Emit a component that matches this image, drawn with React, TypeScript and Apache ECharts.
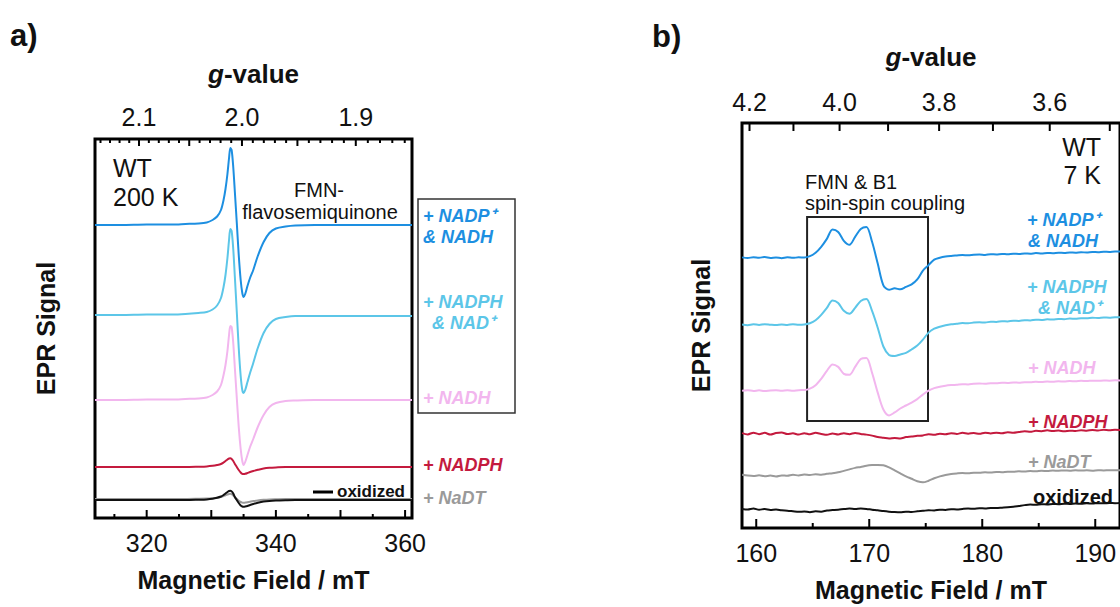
import React, { useEffect, useRef } from "react";
import * as echarts from "echarts";

// B (mT) = G_CONST / g  (X-band, ~9.37 GHz)
const G_CONST = 669.5;

const FONT = '"Liberation Sans", Arial, Helvetica, sans-serif';

const BLUE = "#1d8fe1";
const LIGHTBLUE = "#5cc6e8";
const PINK = "#f2b6ee";
const RED = "#c41a3e";
const GRAY = "#9a9a9a";
const BLACK = "#111111";

// ---------- Panel a (WT, 200 K) ----------
const aFieldRange = [312, 361.07];
const aFieldTicks = [315, 320, 325, 330, 335, 340, 345, 350, 355, 360];
const aFieldLabels = [320, 340, 360];
const aGTicks = [1.86, 1.87, 1.88, 1.89, 1.9, 1.91, 1.92, 1.93, 1.94, 1.95, 1.96, 1.97, 1.98, 1.99, 2.0,
  2.01, 2.02, 2.03, 2.04, 2.05, 2.06, 2.07, 2.08, 2.09, 2.1, 2.11, 2.12, 2.13, 2.14];
const aGLabels = [1.9, 2.0, 2.1];

const aField = [312, 316, 320, 324, 326, 328, 329.3, 330.2, 330.9, 331.5, 331.9, 332.2, 332.5, 332.75, 332.95,
  333.15, 333.4, 333.65, 333.95, 334.25, 334.55, 334.8, 335.0, 335.25, 335.6, 336.0, 336.5, 337.2, 338.1,
  339.0, 340.0, 341.5, 343, 346, 350, 355, 361.07];
const aBlue = [0, 0, 0.5, 0.5, 1, 1.5, 2.5, 5, 8.5, 15, 25, 36, 51, 67, 77, 75, 58, 33, 2, -30, -55, -68, -72,
  -69, -61, -53, -45, -31, -17, -8, -3.5, -1.5, -0.5, 0, 0, 0, 0];
const aLightBlue = [0, 0, 0.5, 0.5, 1, 2, 3, 5.5, 9.5, 17, 28, 40, 57, 75, 86, 84, 66, 38, 3, -33, -61, -75, -78,
  -75, -67, -58, -48, -33, -18, -9, -4, -2, -1, -1, -1, -1, -1];
const aPink = [0, 0, 0.5, 0.5, 1, 1.5, 2.5, 5, 8.5, 15, 25, 35, 49, 65, 74, 73, 57, 32, 2, -27, -49, -61, -65,
  -62, -55, -47, -39, -27, -15, -7, -3, -1, -0.5, 0, 0, 0, 0];
const aRed = [0, 0, 0, 0, 0, 0.3, 0.6, 1.2, 2, 3, 4.5, 6, 7.5, 8.5, 8.7, 8, 6, 3, 0, -3, -5.5, -6.8, -7, -6.8,
  -6, -5, -4, -2.8, -1.5, -0.8, -0.4, 0, 0, 0, 0, 0, 0];
const aGray = [0, 0, 0, 0, 0, 0.2, 0.4, 0.8, 1.3, 2, 3, 3.8, 4.5, 5, 5.2, 4.8, 3.6, 1.8, 0, -1.8, -3, -3.6,
  -3.8, -3.6, -3.2, -2.7, -2.1, -1.4, -0.8, -0.4, -0.2, 0, 0, 0, 0, 0, 0];
const aBlack = [0, 0, 0, 0, 0, 0.3, 0.6, 1.2, 2.2, 3.5, 5, 6.5, 8, 9, 9.3, 8.6, 6.5, 3, 0, -3, -5.5, -6.5,
  -6.8, -6.6, -6, -5, -4, -2.8, -1.6, -0.9, -0.5, -0.2, 0, 0, 0, 0, 0];
// vertical stacking offsets (arbitrary units)
const aOffsets = [293, 203, 118, 51, 19, 18];

// ---------- Panel b (WT, 7 K) ----------
const bFieldRange = [158.74, 192.19];
const bFieldTicks = [160, 165, 170, 175, 180, 185, 190];
const bFieldLabels = [160, 170, 180, 190];
const bGTicks = [3.5, 3.6, 3.7, 3.8, 3.9, 4.0, 4.1, 4.2];
const bGLabels = [3.6, 3.8, 4.0, 4.2];

const bField = [
  158.75, 159.25, 159.75, 160.25, 160.75, 161.25, 161.75, 162.25, 162.75, 163.25,
  163.75, 164.25, 164.75, 165.25, 165.75, 166.25, 166.75, 167.25, 167.75, 168.25,
  168.75, 169.25, 169.75, 170.25, 170.75, 171.25, 171.75, 172.25, 172.75, 173.25,
  173.75, 174.25, 174.75, 175.25, 175.75, 176.25, 176.75, 177.25, 177.75, 178.25,
  178.75, 179.25, 179.75, 180.25, 180.75, 181.25, 181.75, 182.25, 182.75, 183.25,
  183.75, 184.25, 184.75, 185.25, 185.75, 186.25, 186.75, 187.25, 187.75, 188.25,
  188.75, 189.25, 189.75, 190.25, 190.75, 191.25, 191.75, 192.25];
const bBlue = [
  0.3, -0.4, 0.5, 0, 0.6, -0.3, 0.2, -0.5, 0.4, -0.2,
  0.3, 0.2, 1.5, 5, 11, 19, 28.5, 26, 17, 13,
  21, 29, 31, 16, -6, -28, -32.5, -31, -32, -29.5,
  -27, -22, -13, -7.5, -2, 0, 1.2, 1.8, 2.2, 2.6,
  2.4, 3, 3.3, 2.8, 3.5, 3.2, 3.8, 3.4, 4, 3.7,
  4.3, 4, 4.6, 4.2, 4.8, 4.5, 5, 4.7, 5.3, 5,
  5.5, 5.2, 5.8, 5.5, 6, 5.8, 6.3, 6.1];
const bLightBlue = [
  0.3, -0.5, 0.4, -0.2, 0.5, 0, -0.4, 0.3, -0.2, 0.4,
  0, 0.3, 1.5, 4.5, 10, 17, 24.5, 22, 14, 11,
  17, 24, 26, 14, -3, -22, -30.5, -31.5, -30, -28.5,
  -25, -21, -15, -8, -4, -2, -0.5, 0.5, 1, 1.6,
  1.4, 2.2, 2.5, 2.2, 3, 2.8, 3.5, 3.3, 4, 3.8,
  4.5, 4.3, 5, 4.8, 5.4, 5.2, 5.8, 5.6, 6.2, 6,
  6.6, 6.4, 7, 6.8, 7.3, 7.1, 7.6, 7.4];
const bPink = [
  0, 0.4, -0.3, 0.3, -0.4, 0.2, 0.5, 0, 0.4, -0.2,
  0.5, 0.6, 2, 5.5, 12, 20, 26.5, 24, 17, 16,
  24, 32, 33, 18, -2, -19, -25, -22, -18, -15,
  -12, -8.5, -4, 0, 2.5, 4, 5, 5.6, 6, 6.5,
  6.3, 7, 7.2, 7, 7.6, 7.5, 8, 7.8, 8.3, 8.1,
  8.6, 8.4, 8.9, 8.7, 9.2, 9, 9.4, 9.3, 9.7, 9.5,
  9.9, 9.7, 10.1, 9.9, 10.3, 10.1, 10.4, 10.2];
const bRed = [
  0.5, -0.8, 1, -0.5, 0.8, -1, 0.6, 1.2, -0.4, 0.3,
  -1, 0.5, -0.6, 0.8, -0.3, -1.2, 0.2, -0.8, 0.4, -0.5,
  0.6, -0.3, -1, -2, -3.5, -4.2, -5, -4.3, -4.8, -3.5,
  -3, -2.2, -1.8, -0.6, -1.2, 0, -0.6, 0.4, -0.3, 0.8,
  0, 0.6, -0.2, 0.9, 0.2, 1, 0.4, 1.4, 0.8, 1.6,
  2.4, 1.8, 2.8, 2.5, 3.3, 2.7, 3.1, 2.4, 3, 2.6,
  3.5, 3, 3.7, 3.2, 3.9, 3.5, 4, 3.6];
const bGray = [
  0, -0.8, -1.2, -0.5, -1.5, -0.8, -1.6, -0.6, -1, 0,
  -0.6, 0.3, -0.2, 0.6, 0.2, 1, 1.6, 2.5, 4, 5.5,
  7, 8, 9.2, 9.8, 10, 9.6, 7.5, 4.5, 1.5, -1.5,
  -4, -6.5, -7.6, -6, -3.5, -1.6, -0.2, 0.8, 1.4, 1.8,
  1.5, 2.2, 2, 2.6, 2.3, 2.9, 2.7, 3.2, 3, 3.5,
  3.3, 3.8, 3.6, 4, 3.8, 4.3, 4.1, 4.4, 4.2, 4.6,
  4.3, 4.5, 4.2, 4.6, 4.4, 4.7, 4.5, 4.6];
const bBlack = [
  0, -0.6, 0.4, -0.8, -0.2, -1, -0.6, -1.4, -1.8, -2.4,
  -3, -2.6, -3.3, -2.5, -2.8, -1.6, -1.2, -0.8, -0.2, 0.3,
  -0.2, 0.4, 0, -0.8, -1.4, -2.2, -2.8, -3.2, -3.4, -2.8,
  -3.2, -2.4, -2, -1.4, -1.6, -0.8, -1, -0.3, -0.6, 0,
  0.4, 0.1, 0.7, 0.5, 1, 0.8, 1.2, 1.6, 2.2, 3,
  3.8, 4.4, 4.2, 4.8, 4.5, 5, 4.7, 5.2, 5, 5.4,
  5.2, 5.6, 5.4, 5.8, 5.6, 6, 5.8, 6];
const bOffsets = [273, 205.3, 138.7, 95.3, 53.7, 19.3];
// "FMN & B1 spin-spin coupling" frame: [fieldFrom, fieldTo, yFrom, yTo]
const bBox = [164.5, 175.2, 108, 314];

type Tick = { field: number; side: "top" | "bottom"; len: number; label?: string };

function buildTicks(fieldTicks: number[], fieldMajorStep: number, gTicks: number[], gMajorStep: number,
  gLabels: number[], lens: number[]): Tick[] {
  const out: Tick[] = [];
  fieldTicks.forEach((f) => {
    const major = Math.abs(f / fieldMajorStep - Math.round(f / fieldMajorStep)) < 1e-6;
    out.push({ field: f, side: "bottom", len: major ? lens[0] : lens[1] });
  });
  gTicks.forEach((g) => {
    const major = Math.abs(g / gMajorStep - Math.round(g / gMajorStep)) < 1e-6;
    const lab = gLabels.some((l) => Math.abs(l - g) < 1e-6) ? g.toFixed(1) : undefined;
    out.push({ field: G_CONST / g, side: "top", len: major ? lens[2] : lens[3], label: lab });
  });
  return out;
}

function tickSeries(ticks: Tick[], axisIdx: number, labelOffset: number) {
  return {
    type: "custom",
    xAxisIndex: axisIdx,
    yAxisIndex: axisIdx === 0 ? 0 : 1,
    silent: true,
    clip: false,
    z: 5,
    encode: { x: 0, y: 1 },
    data: ticks.map((t) => [t.field, 0]),
    renderItem: (params: any, api: any) => {
      const t = ticks[params.dataIndex];
      const cs = params.coordSys;
      const px = api.coord([t.field, 0])[0];
      const children: any[] = [];
      if (t.side === "bottom") {
        const yb = cs.y + cs.height;
        children.push({ type: "line", shape: { x1: px, y1: yb, x2: px, y2: yb - t.len }, style: { stroke: "#000", lineWidth: 2 } });
      } else {
        children.push({ type: "line", shape: { x1: px, y1: cs.y, x2: px, y2: cs.y + t.len }, style: { stroke: "#000", lineWidth: 2 } });
        if (t.label) {
          children.push({
            type: "text",
            style: {
              text: t.label, x: px, y: cs.y - labelOffset, fill: "#111",
              font: `25px ${FONT}`, align: "center", verticalAlign: "middle",
              textAlign: "center", textVerticalAlign: "middle",
            },
          });
        }
      }
      return { type: "group", children };
    },
  };
}

function traceSeries(name: string, xs: number[], ys: number[], off: number, color: string, axisIdx: number, extra: any = {}) {
  return {
    name,
    type: "line",
    xAxisIndex: axisIdx,
    yAxisIndex: axisIdx === 0 ? 0 : 1,
    data: xs.map((x, i) => [x, off + ys[i]]),
    showSymbol: false,
    smooth: 0.3,
    silent: true,
    lineStyle: { color, width: 2 },
    itemStyle: { color },
    z: 3,
    ...extra,
  };
}

function txt(text: string, x: number, y: number, opts: any = {}) {
  return {
    type: "text",
    x, y,
    silent: true,
    style: {
      text,
      fill: opts.color || "#111",
      font: `${opts.style || "normal"} ${opts.weight || "normal"} ${opts.size || 19}px ${FONT}`,
      align: opts.align || "left",
      verticalAlign: "middle",
      textAlign: opts.align || "left",
      textVerticalAlign: "middle",
    },
  };
}

const lab = (text: string, x: number, y: number, color: string, align = "left") =>
  txt(text, x, y, { color, style: "italic", weight: "bold", size: 18, align });

export default function App() {
  const ref = useRef<HTMLDivElement>(null);

  useEffect(() => {
    if (!ref.current) return;
    const chart = echarts.init(ref.current, undefined, { renderer: "svg" });

    const aTicks = buildTicks(aFieldTicks, 10, aGTicks, 0.05, aGLabels, [8, 4, 7, 4]);
    const bTicks = buildTicks(bFieldTicks, 10, bGTicks, 0.1, bGLabels, [9, 5, 8, 8]);

    const axisTitle = { fontSize: 25, fontWeight: "bold", color: "#111", fontFamily: FONT };
    const gName = {
      fontSize: 26, fontWeight: "bold", color: "#111", fontFamily: FONT,
      rich: { i: { fontSize: 26, fontWeight: "bold", fontStyle: "italic", color: "#111", fontFamily: FONT } },
    };

    const bottomAxis = (grid: number, range: number[], labels: number[]) => ({
      type: "value", gridIndex: grid, position: "bottom", min: range[0], max: range[1],
      axisLine: { show: false }, axisTick: { show: false }, splitLine: { show: false },
      axisLabel: { customValues: labels, fontSize: 25, color: "#111", fontFamily: FONT, margin: 12 },
      name: "Magnetic Field / mT", nameLocation: "middle", nameGap: 49, nameTextStyle: axisTitle,
    });
    const topAxis = (grid: number, range: number[], gap: number) => ({
      type: "value", gridIndex: grid, position: "top", min: range[0], max: range[1],
      axisLine: { show: false }, axisTick: { show: false }, splitLine: { show: false }, axisLabel: { show: false },
      name: "{i|g}-value", nameLocation: "middle", nameGap: gap, nameTextStyle: gName,
    });
    const leftAxis = (grid: number, max: number, gap: number) => ({
      type: "value", gridIndex: grid, min: 0, max,
      axisLine: { show: false }, axisTick: { show: false }, splitLine: { show: false }, axisLabel: { show: false },
      name: "EPR Signal", nameLocation: "middle", nameGap: gap, nameRotate: 90, nameTextStyle: axisTitle,
    });

    const option: any = {
      animation: false,
      backgroundColor: "#ffffff",
      textStyle: { fontFamily: FONT },
      grid: [
        { left: 95, top: 139, width: 317, height: 379, show: true, borderColor: "#000", borderWidth: 3, backgroundColor: "transparent" },
        { left: 742, top: 123, width: 379, height: 409, show: true, borderColor: "#000", borderWidth: 3, backgroundColor: "transparent" },
      ],
      xAxis: [
        bottomAxis(0, aFieldRange, aFieldLabels),
        bottomAxis(1, bFieldRange, bFieldLabels),
        topAxis(0, aFieldRange, 52),
        topAxis(1, bFieldRange, 53),
      ],
      yAxis: [leftAxis(0, 379, 37), leftAxis(1, 409, 29)],
      series: [
        traceSeries("+ NADP+ & NADH (a)", aField, aBlue, aOffsets[0], BLUE, 0),
        traceSeries("+ NADPH & NAD+ (a)", aField, aLightBlue, aOffsets[1], LIGHTBLUE, 0),
        traceSeries("+ NADH (a)", aField, aPink, aOffsets[2], PINK, 0),
        traceSeries("+ NADPH (a)", aField, aRed, aOffsets[3], RED, 0),
        traceSeries("+ NaDT (a)", aField, aGray, aOffsets[4], GRAY, 0),
        traceSeries("oxidized (a)", aField, aBlack, aOffsets[5], BLACK, 0),
        traceSeries("+ NADP+ & NADH (b)", bField, bBlue, bOffsets[0], BLUE, 1, {
          markArea: {
            silent: true,
            label: { show: false },
            itemStyle: { color: "rgba(0,0,0,0)", borderColor: "#222", borderWidth: 2 },
            data: [[{ coord: [bBox[0], bBox[2]] }, { coord: [bBox[1], bBox[3]] }]],
          },
        }),
        traceSeries("+ NADPH & NAD+ (b)", bField, bLightBlue, bOffsets[1], LIGHTBLUE, 1),
        traceSeries("+ NADH (b)", bField, bPink, bOffsets[2], PINK, 1),
        traceSeries("+ NADPH (b)", bField, bRed, bOffsets[3], RED, 1),
        traceSeries("+ NaDT (b)", bField, bGray, bOffsets[4], GRAY, 1),
        traceSeries("oxidized (b)", bField, bBlack, bOffsets[5], BLACK, 1),
        tickSeries(aTicks, 0, 22),
        tickSeries(bTicks, 1, 21),
      ],
      graphic: [
        txt("a)", 10, 35, { weight: "bold", size: 31 }),
        txt("b)", 652, 36, { weight: "bold", size: 31 }),
        // panel a
        txt("WT", 113, 168, { size: 25 }),
        txt("200 K", 113, 197, { size: 25 }),
        txt("FMN-", 319, 190, { size: 20, align: "center" }),
        txt("flavosemiquinone", 320, 212, { size: 20, align: "center" }),
        { type: "rect", silent: true, shape: { x: 418, y: 199, width: 97, height: 214 }, style: { fill: "none", stroke: "#333", lineWidth: 1.5 } },
        lab("+ NADP\u207A", 423, 216, BLUE),
        lab("& NADH", 423, 237, BLUE),
        lab("+ NADPH", 423, 302, LIGHTBLUE),
        lab("& NAD\u207A", 432, 323, LIGHTBLUE),
        lab("+ NADH", 423, 398, PINK),
        lab("+ NADPH", 423, 465, RED),
        lab("+ NaDT", 423, 498, GRAY),
        { type: "line", silent: true, shape: { x1: 313, y1: 492, x2: 333, y2: 492 }, style: { stroke: "#000", lineWidth: 3 } },
        txt("oxidized", 337, 491, { weight: "bold", size: 17 }),
        // panel b
        txt("WT", 1101, 147, { size: 25, align: "right" }),
        txt("7 K", 1101, 175, { size: 25, align: "right" }),
        txt("FMN & B1", 805, 182, { size: 20 }),
        txt("spin-spin coupling", 805, 203, { size: 20 }),
        lab("+ NADP\u207A", 1027, 220, BLUE),
        lab("& NADH", 1028, 241, BLUE),
        lab("+ NADPH", 1027, 287, LIGHTBLUE),
        lab("& NAD\u207A", 1038, 308, LIGHTBLUE),
        lab("+ NADH", 1028, 368, PINK),
        lab("+ NADPH", 1028, 422, RED),
        lab("+ NaDT", 1028, 462, GRAY),
        txt("oxidized", 1033, 497, { weight: "bold", size: 20 }),
      ],
    };

    chart.setOption(option);
    return () => chart.dispose();
  }, []);

  return (
    <div
      ref={ref}
      style={{ position: "fixed", left: 0, top: 0, width: 1120, height: 607, background: "#fff" }}
    />
  );
}
